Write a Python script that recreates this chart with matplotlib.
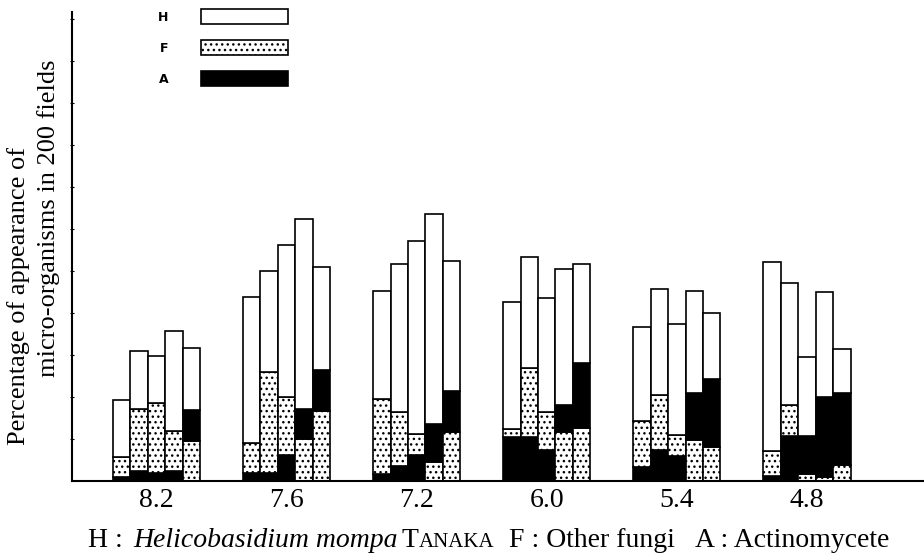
import numpy as np
import matplotlib.pyplot as plt
from matplotlib.patches import Patch

plt.rcParams['font.family'] = 'Liberation Serif'
plt.rcParams['hatch.linewidth'] = 1.0

# pH of the soil, one group of five bars each
ph_labels = ["8.2", "7.6", "7.2", "6.0", "5.4", "4.8"]

# appearance (%), bars in left-to-right order
h_vals = [6.8, 6.9, 5.6, 11.9, 7.4,
          17.4, 12.0, 18.1, 22.6, 12.3,
          12.9, 17.6, 23.0, 25.0, 15.5,
          15.1, 13.2, 13.6, 16.1, 11.8,
          11.2, 12.7, 13.2, 12.1, 7.9,
          22.5, 14.4, 9.4, 12.5, 5.2]
f_vals = [2.3, 7.4, 8.3, 4.8, 4.8,
          3.5, 12.0, 6.9, 5.0, 8.3,
          8.9, 6.4, 2.5, 2.3, 5.8,
          1.0, 8.3, 4.5, 5.8, 6.3,
          5.4, 6.5, 2.5, 4.9, 4.0,
          3.0, 3.7, 0.8, 0.5, 1.9]
a_vals = [0.5, 1.2, 1.0, 1.2, 3.6,
          1.0, 1.0, 3.1, 3.6, 4.9,
          0.8, 1.8, 3.1, 4.5, 4.9,
          5.2, 5.2, 3.7, 3.3, 7.7,
          1.7, 3.7, 3.0, 5.6, 8.1,
          0.6, 5.4, 4.5, 9.5, 8.6]
# stacking order of each bar, bottom to top
stack_order = ["AFH", "AFH", "AFH", "AFH", "FAH",
               "AFH", "AFH", "AFH", "FAH", "FAH",
               "AFH", "AFH", "AFH", "FAH", "FAH",
               "AFH", "AFH", "AFH", "FAH", "FAH",
               "AFH", "AFH", "AFH", "FAH", "FAH",
               "AFH", "AFH", "FAH", "FAH", "FAH"]

values = {"H": h_vals, "F": f_vals, "A": a_vals}
styles = {
    "H": dict(facecolor="white", edgecolor="black"),
    "F": dict(facecolor="white", edgecolor="black", hatch="..."),
    "A": dict(facecolor="black", edgecolor="black"),
}

fig = plt.figure(figsize=(9.24, 5.6), dpi=100)
ax = fig.add_axes([72 / 924, 1 - 481 / 560, 1 - 72 / 924, (481 - 12) / 560])

width = 0.134
for i, order in enumerate(stack_order):
    x = i // 5 + (i % 5 - 2) * width
    bottom = 0
    for key in order:
        v = values[key][i]
        ax.bar(x, v, width, bottom=bottom, linewidth=1.2, **styles[key])
        bottom += v

ax.set_xlim(-0.65, 5.9)
ax.set_ylim(0, 55.8)
ax.set_xticks(range(len(ph_labels)))
ax.set_xticklabels(ph_labels, fontsize=20)
ax.tick_params(axis="x", length=0, pad=5)
ax.set_yticks(np.arange(5, 56, 5))
ax.set_yticklabels([])
ax.tick_params(axis="y", length=3, width=0.8, direction="inout")
for s in ["top", "right"]:
    ax.spines[s].set_visible(False)
ax.spines["left"].set_linewidth(1.5)
ax.spines["bottom"].set_linewidth(1.5)

# legend, labels to the left of the boxes
handles = [Patch(label=k, linewidth=1.2, **styles[k]) for k in ["H", "F", "A"]]
leg = fig.legend(handles=handles, loc="upper left", bbox_to_anchor=(158 / 924, 1 - 9 / 560),
                 frameon=False, markerfirst=False, borderpad=0, borderaxespad=0,
                 handlelength=7.0, handleheight=1.45, labelspacing=1.3, handletextpad=2.6,
                 prop=dict(family="DejaVu Sans", weight="bold", size=9))

# y axis title, two staggered lines
fig.text(19 / 924, 1 - 296 / 560, "Percentage of appearance of", rotation=90,
         ha="center", va="center", fontsize=19)
fig.text(49 / 924, 1 - 218 / 560, "micro-organisms in 200 fields", rotation=90,
         ha="center", va="center", fontsize=19)

# caption under the axis; TANAKA in small caps
renderer = fig.canvas.get_renderer()
y = 1 - 547 / 560
fig.text(88 / 924, y, "H :", va="baseline", fontsize=20)
fig.text(133 / 924, y, "Helicobasidium mompa", va="baseline", fontsize=20, style="italic")
t = fig.text(402 / 924, y, "T", va="baseline", fontsize=20)
x = 402 / 924 + t.get_window_extent(renderer).width / 924
fig.text(x, y, "ANAKA", va="baseline", fontsize=15)
fig.text(509 / 924, y, "F : Other fungi", va="baseline", fontsize=20)
fig.text(695 / 924, y, "A : Actinomycete", va="baseline", fontsize=20)

fig.savefig("out.png", dpi=100)
